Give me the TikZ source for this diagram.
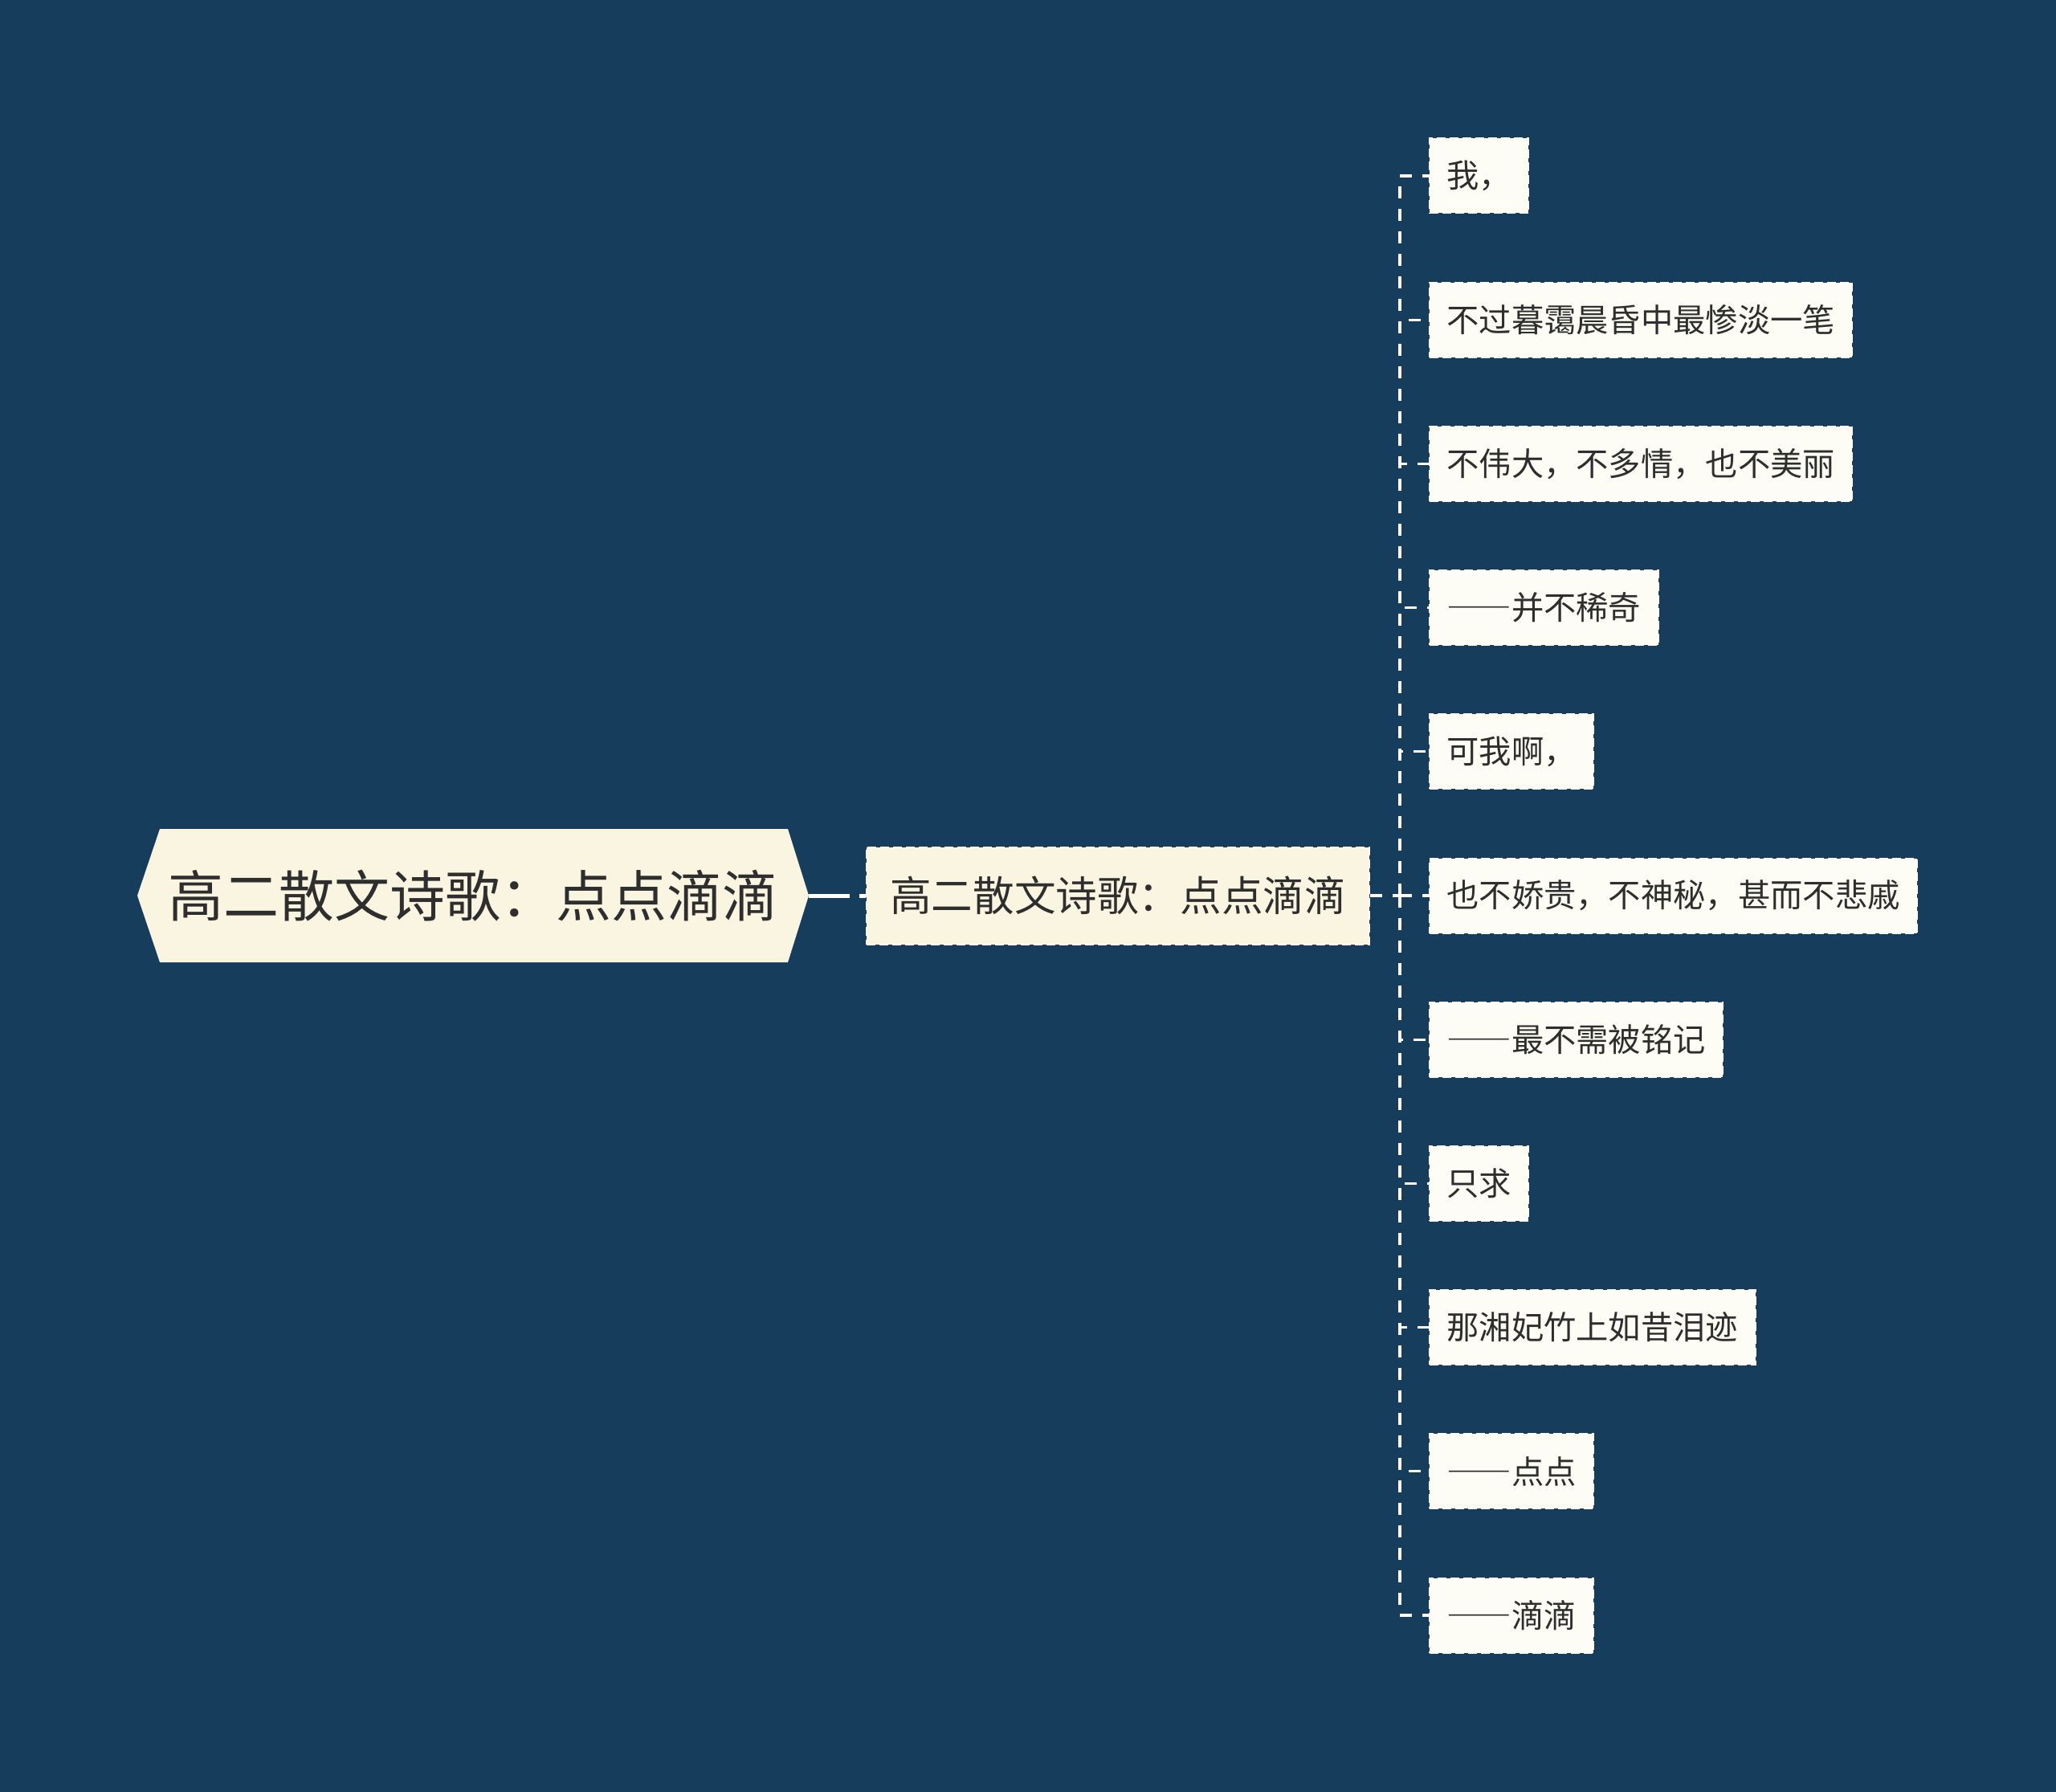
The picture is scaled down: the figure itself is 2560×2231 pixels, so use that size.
\documentclass[tikz,border=0pt]{standalone}
\usepackage{fontspec}
\setmainfont{Noto Sans CJK SC}[RawFeature=+fwid]
\definecolor{bgblue}{HTML}{173D5D}
\definecolor{rootfill}{HTML}{FAF5E1}
\definecolor{midfill}{HTML}{FAF5E1}
\definecolor{leaffill}{HTML}{FDFDF6}
\definecolor{inkgray}{HTML}{2E2E2E}
\tikzset{
  midbox/.style={draw=white, fill=midfill, line width=1pt, dash pattern=on 5.5pt off 2.5pt,
    font=\fontsize{25.8}{28}\selectfont, text=inkgray, inner xsep=14.5pt, minimum height=60.5pt},
  leafbox/.style={draw=white, fill=leaffill, line width=1pt, dash pattern=on 5.5pt off 2.5pt,
    font=\fontsize{20.15}{22}\selectfont, text=inkgray, inner xsep=10.7pt, minimum height=46.5pt, anchor=west},
  linkline/.style={draw=white, line width=1.6pt, dash pattern=on 7.5pt off 6.5pt},
  rootline/.style={draw=white, line width=2.5pt, dash pattern=on 25.5pt off 6pt}
}

\begin{document}
\begin{tikzpicture}[x=0.5pt, y=-0.5pt]
  \fill[bgblue] (0,0) rectangle (2560,2231);
  \useasboundingbox (0,0) rectangle (2560,2231);

  % root hexagon
  \fill[rootfill] (171,1115) -- (199,1032) -- (981,1032) -- (1007,1115)
    -- (981,1198) -- (199,1198) -- cycle;
  \node[inner sep=0pt, minimum width=418pt, minimum height=83pt,
    font=\fontsize{34.5}{36}\selectfont, text=inkgray] (root) at (589,1115) {高二散文诗歌：点点滴滴};

  \node[midbox] (mid) at (1392,1115) {高二散文诗歌：点点滴滴};
  \draw[rootline] (root.east) -- (mid.west);

  \coordinate (spine) at (1743,1115);
  \draw[linkline] (mid.east) -- (spine);

  \foreach \txt [count=\i] in {{我，}, {不过暮霭晨昏中最惨淡一笔}, {不伟大，不多情，也不美丽},
      {——并不稀奇}, {可我啊，}, {也不娇贵，不神秘，甚而不悲戚}, {——最不需被铭记},
      {只求}, {那湘妃竹上如昔泪迹}, {——点点}, {——滴滴}} {
    \node[leafbox] (leaf\i) at (1779, {219+179.2*(\i-1)}) {\txt};
    \draw[linkline] (spine) |- (leaf\i.west);
  }
\end{tikzpicture}
\end{document}
